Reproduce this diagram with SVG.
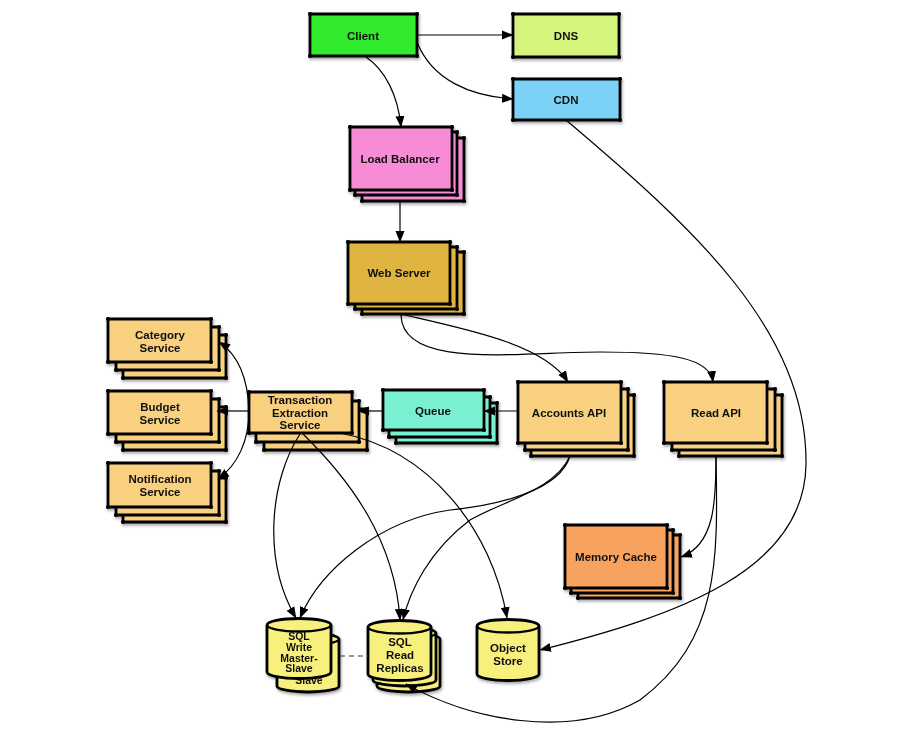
<svg xmlns="http://www.w3.org/2000/svg" width="899" height="746" viewBox="0 0 899 746">
<defs>
<marker id="arrow" markerUnits="userSpaceOnUse" markerWidth="12" markerHeight="10" refX="11" refY="5" orient="auto"><path d="M0,0.5 L11.5,5 L0,9.5 z" fill="#000"/></marker>
<marker id="dot" markerUnits="userSpaceOnUse" markerWidth="6" markerHeight="6" refX="3" refY="3"><circle cx="3" cy="3" r="2.1" fill="#000"/></marker>
<filter id="shadow" x="-10%" y="-10%" width="130%" height="140%"><feDropShadow dx="1" dy="2" stdDeviation="1.5" flood-color="#000" flood-opacity="0.35"/></filter>
</defs>
<style>
.box{stroke:#000;stroke-width:2.8;stroke-linejoin:miter;marker-start:url(#dot);marker-mid:url(#dot)}
.cyl{stroke:#000;stroke-width:2.8;stroke-linejoin:round}
.rim{fill:none;stroke:#000;stroke-width:2.4}
.node{filter:url(#shadow)}
text{font-family:"Liberation Sans Narrow","Liberation Sans",sans-serif;font-weight:bold;font-size:11.5px;text-anchor:middle;fill:#111}
.small{font-size:10.5px}
.c{fill:none;stroke:#000;stroke-width:1.2;marker-end:url(#arrow)}
.green{fill:#33ea2e}.lime{fill:#d5f47c}.blue{fill:#7bd2f6}.pink{fill:#f78bd6}.gold{fill:#dfb43f}.tan{fill:#f8d07f}.teal{fill:#79f0d2}.orange{fill:#f7a25f}.yellow{fill:#f8f07c}
</style>
<rect width="899" height="746" fill="#fff"/>

<g id="client" class="node"><path class="box green" d="M310,14 H417 V56 H310 Z"/><text x="363" y="40">Client</text></g>
<g id="dns" class="node"><path class="box lime" d="M513,14 H619 V57 H513 Z"/><text x="566" y="40">DNS</text></g>
<g id="cdn" class="node"><path class="box blue" d="M513,79 H620 V120 H513 Z"/><text x="566" y="104">CDN</text></g>

<g id="load-balancer" class="node">
<path class="box pink" d="M362,138 H464 V201 H362 Z"/>
<path class="box pink" d="M355,132 H457 V195 H355 Z"/>
<path class="box pink" d="M350,127 H452 V190 H350 Z"/>
<text x="400" y="163">Load Balancer</text></g>

<g id="web-server" class="node">
<path class="box gold" d="M362,252 H464 V314 H362 Z"/>
<path class="box gold" d="M355,247 H457 V309 H355 Z"/>
<path class="box gold" d="M348,242 H450 V304 H348 Z"/>
<text x="399" y="277">Web Server</text></g>

<g id="category-service" class="node">
<path class="box tan" d="M123,335 H226 V378 H123 Z"/>
<path class="box tan" d="M116,327 H219 V370 H116 Z"/>
<path class="box tan" d="M108,319 H211 V362 H108 Z"/>
<text x="160" y="339">Category</text><text x="160" y="352">Service</text></g>

<g id="budget-service" class="node">
<path class="box tan" d="M123,407 H226 V450 H123 Z"/>
<path class="box tan" d="M116,399 H219 V442 H116 Z"/>
<path class="box tan" d="M108,391 H211 V434 H108 Z"/>
<text x="160" y="411">Budget</text><text x="160" y="424">Service</text></g>

<g id="notification-service" class="node">
<path class="box tan" d="M123,478 H226 V522 H123 Z"/>
<path class="box tan" d="M116,471 H219 V515 H116 Z"/>
<path class="box tan" d="M108,463 H211 V507 H108 Z"/>
<text x="160" y="483">Notification</text><text x="160" y="496">Service</text></g>

<g id="transaction-extraction-service" class="node">
<path class="box tan" d="M264,409 H367 V450 H264 Z"/>
<path class="box tan" d="M256,401 H359 V442 H256 Z"/>
<path class="box tan" d="M249,392 H352 V433 H249 Z"/>
<text x="300" y="404">Transaction</text><text x="300" y="416.5">Extraction</text><text x="300" y="429">Service</text></g>

<g id="queue" class="node">
<path class="box teal" d="M396,403 H497 V443 H396 Z"/>
<path class="box teal" d="M389,397 H490 V437 H389 Z"/>
<path class="box teal" d="M383,390 H484 V430 H383 Z"/>
<text x="433" y="415">Queue</text></g>

<g id="accounts-api" class="node">
<path class="box tan" d="M531,395 H634 V456 H531 Z"/>
<path class="box tan" d="M525,389 H628 V450 H525 Z"/>
<path class="box tan" d="M518,382 H621 V443 H518 Z"/>
<text x="569" y="417">Accounts API</text></g>

<g id="read-api" class="node">
<path class="box tan" d="M679,395 H782 V456 H679 Z"/>
<path class="box tan" d="M672,389 H775 V450 H672 Z"/>
<path class="box tan" d="M664,382 H767 V443 H664 Z"/>
<text x="716" y="417">Read API</text></g>

<g id="memory-cache" class="node">
<path class="box orange" d="M578,535 H680 V598 H578 Z"/>
<path class="box orange" d="M571,530 H673 V593 H571 Z"/>
<path class="box orange" d="M565,525 H667 V588 H565 Z"/>
<text x="616" y="561">Memory Cache</text></g>

<g id="sql-write" class="node">
<path class="cyl yellow" d="M277,639 L277,686 A31,6 0 0 0 339,686 L339,639 A31,6 0 0 0 277,639 Z"/>
<path class="rim" d="M277,639 A31,6 0 0 0 339,639"/>
<text class="small" x="309" y="684">Slave</text>
<path class="cyl yellow" d="M267,625 L267,672 A32,6.5 0 0 0 331,672 L331,625 A32,6.5 0 0 0 267,625 Z"/>
<path class="rim" d="M267,625 A32,6.5 0 0 0 331,625"/>
<text class="small" x="299" y="640">SQL</text><text class="small" x="299" y="651">Write</text><text class="small" x="299" y="661.5">Master-</text><text class="small" x="299" y="672">Slave</text></g>

<g id="sql-read-replicas" class="node">
<path class="cyl yellow" d="M377,639 L377,686 A31.5,6 0 0 0 440,686 L440,639 A31.5,6 0 0 0 377,639 Z"/>
<path class="cyl yellow" d="M373,633 L373,680 A31.5,6 0 0 0 436,680 L436,633 A31.5,6 0 0 0 373,633 Z"/>
<path class="rim" d="M373,633 A31.5,6 0 0 0 436,633"/>
<path class="cyl yellow" d="M368,627 L368,674 A31.5,6.5 0 0 0 431,674 L431,627 A31.5,6.5 0 0 0 368,627 Z"/>
<path class="rim" d="M368,627 A31.5,6.5 0 0 0 431,627"/>
<text x="400" y="646">SQL</text><text x="400" y="659">Read</text><text x="400" y="672">Replicas</text></g>

<g id="object-store" class="node">
<path class="cyl yellow" d="M477,626 L477,674 A31,6.5 0 0 0 539,674 L539,626 A31,6.5 0 0 0 477,626 Z"/>
<path class="rim" d="M477,626 A31,6.5 0 0 0 539,626"/>
<text x="508" y="652">Object</text><text x="508" y="665">Store</text></g>

<g id="connectors">
<path class="c" d="M417,35 L513,35"/>
<path class="c" d="M417,42 C432,80 470,96 513,99"/>
<path class="c" d="M366,57 C385,70 398,95 401,127"/>
<path class="c" d="M400,202 L400,242"/>
<path class="c" d="M566,120 C690,225 808,330 806,465 C804,570 680,615 540,650"/>
<path class="c" d="M405,315 C470,330 545,345 568,382"/>
<path class="c" d="M401,315 C402,370 520,352 600,352 C670,352 710,358 713,382"/>
<path class="c" d="M518,411 L484,411"/>
<path class="c" d="M383,411 L358,411"/>
<path class="c" d="M249,411 L217,411"/>
<path class="c" d="M249,411 C248,380 240,356 219,342"/>
<path class="c" d="M249,411 C249,440 238,465 218,479"/>
<path class="c" d="M300,434 C270,480 262,560 296,618"/>
<path class="c" d="M303,434 C350,480 395,540 400,620"/>
<path class="c" d="M340,433 C430,450 492,530 507,618"/>
<path class="c" d="M570,456 C560,490 500,505 450,510 C380,520 320,570 300,618"/>
<path class="c" d="M570,456 C555,490 505,500 470,520 C430,550 410,590 403,620"/>
<path class="c" d="M716,456 C716,500 715,545 681,557"/>
<path class="c" d="M716,456 C718,560 720,640 640,700 C570,740 470,720 406,684"/>
<path d="M340,656 L368,656" fill="none" stroke="#333" stroke-width="1.2" stroke-dasharray="5,4"/>
</g>
</svg>
